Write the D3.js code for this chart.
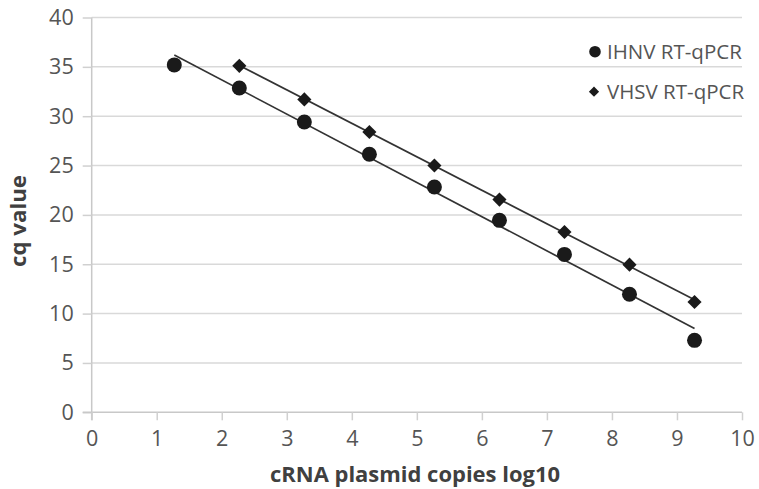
<!DOCTYPE html>
<html>
<head>
<meta charset="utf-8">
<script src="https://cdn.jsdelivr.net/npm/d3@7"></script>
<style>
  body { margin: 0; background: #fff; }
  text { font-family: "Open Sans", sans-serif; }
</style>
</head>
<body>
<script>
// data
const ihnvX = [1.27, 2.27, 3.27, 4.27, 5.27, 6.27, 7.27, 8.27, 9.27];
const ihnvY = [35.2, 32.86, 29.41, 26.14, 22.83, 19.45, 16.0, 11.96, 7.29];
const vhsvX = [2.27, 3.27, 4.27, 5.27, 6.27, 7.27, 8.27, 9.27];
const vhsvY = [35.1, 31.7, 28.4, 25.0, 21.55, 18.27, 14.96, 11.18];
const seriesNames = ["IHNV RT-qPCR", "VHSV RT-qPCR"];
const xTicks = d3.range(0, 11, 1);
const yTicks = d3.range(0, 41, 5);

const width = 759, height = 489;
const margin = {left: 91.7, right: 17, top: 17.5, bottom: 76.7};

const svg = d3.select("body").append("svg")
    .attr("width", width)
    .attr("height", height);

const x = d3.scaleLinear()
    .domain([0, 10])
    .range([margin.left, width - margin.right]);

const y = d3.scaleLinear()
    .domain([0, 40])
    .range([height - margin.bottom, margin.top]);

// gridlines
svg.append("g")
    .selectAll("line")
    .data(yTicks.filter(d => d > 0))
    .enter()
    .append("line")
    .attr("x1", x(0))
    .attr("x2", x(10))
    .attr("y1", d => y(d))
    .attr("y2", d => y(d))
    .attr("stroke", "#d9d9d9")
    .attr("stroke-width", 1.5)

// y axis
const gy = svg.append("g")
    .attr("transform", `translate(${x(0)},0)`)
    .call(d3.axisLeft(y).tickValues(yTicks).tickSize(9).tickPadding(9));
gy.select(".domain").attr("stroke", "#c8c8c8").attr("stroke-width", 1.5)
    .attr("d", `M0,${y(40)}V${y(0) + 8}`);
gy.selectAll(".tick line").attr("stroke", "#d0d0d0").attr("stroke-width", 1.5);
gy.selectAll(".tick text")
    .attr("fill", "#555")
    .style("font-size", "21.5px")
    .style("font-family", "'Open Sans', sans-serif");

// x axis
const gx = svg.append("g")
    .attr("transform", `translate(0,${y(0)})`)
    .call(d3.axisBottom(x).tickValues(xTicks).tickSize(8).tickPadding(10));
gx.select(".domain").attr("stroke", "#c8c8c8").attr("stroke-width", 1.5)
    .attr("d", `M${x(0) - 9},0H${x(10)}`);
gx.selectAll(".tick line").attr("stroke", "#d0d0d0").attr("stroke-width", 1.5);
gx.selectAll(".tick text")
    .attr("fill", "#555")
    .style("font-size", "21.5px")
    .style("font-family", "'Open Sans', sans-serif");

// axis titles
svg.append("text")
    .attr("x", 415)
    .attr("y", 482)
    .attr("text-anchor", "middle")
    .attr("font-weight", "bold")
    .attr("font-size", "20.5px")
    .attr("textLength", 290)
    .attr("lengthAdjust", "spacingAndGlyphs")
    .attr("fill", "#404040")
    .text("cRNA plasmid copies log10")

svg.append("text")
    .attr("transform", "translate(26,221) rotate(-90)")
    .attr("text-anchor", "middle")
    .attr("font-weight", "bold")
    .attr("font-size", "20.5px")
    .attr("textLength", 92)
    .attr("lengthAdjust", "spacingAndGlyphs")
    .attr("fill", "#404040")
    .text("cq value")

// linear trendlines
function fit(xs, ys) {
    const mx = d3.mean(xs), my = d3.mean(ys);
    const slope = d3.sum(xs, (v, i) => (v - mx) * (ys[i] - my)) / d3.sum(xs, v => (v - mx) ** 2);
    const b = my - slope * mx;
    const x0 = d3.min(xs), x1 = d3.max(xs);
    return [[x0, slope * x0 + b], [x1, slope * x1 + b]];
}

const line = d3.line().x(d => x(d[0])).y(d => y(d[1]));

[[ihnvX, ihnvY], [vhsvX, vhsvY]].forEach(s => {
    svg.append("path")
        .attr("d", line(fit(s[0], s[1])))
        .attr("fill", "none")
        .attr("stroke", "#333")
        .attr("stroke-width", 1.7)
});

// points
svg.append("g")
    .selectAll("circle")
    .data(ihnvX.map((v, i) => [v, ihnvY[i]]))
    .enter()
    .append("circle")
    .attr("cx", d => x(d[0]))
    .attr("cy", d => y(d[1]))
    .attr("r", 7.5)
    .attr("fill", "#1a1a1a")

svg.append("g")
    .selectAll("path")
    .data(vhsvX.map((v, i) => [v, vhsvY[i]]))
    .enter()
    .append("path")
    .attr("transform", d => `translate(${x(d[0])},${y(d[1])}) rotate(45)`)
    .attr("d", d3.symbol().type(d3.symbolSquare).size(100)())
    .attr("fill", "#1a1a1a")

// legend
const legend = svg.append("g");
legend.append("circle")
    .attr("cx", 595)
    .attr("cy", 51.7)
    .attr("r", 5.8)
    .attr("fill", "#1a1a1a")
legend.append("path")
    .attr("transform", "translate(594,91.7) rotate(45)")
    .attr("d", d3.symbol().type(d3.symbolSquare).size(52)())
    .attr("fill", "#1a1a1a")

legend.selectAll("text")
    .data(seriesNames)
    .enter()
    .append("text")
    .attr("x", 607)
    .attr("y", (d, i) => 51.7 + i * 40)
    .attr("dy", "0.35em")
    .attr("font-size", "20.5px")
    .attr("fill", "#555")
    .text(d => d)
</script>
</body>
</html>
